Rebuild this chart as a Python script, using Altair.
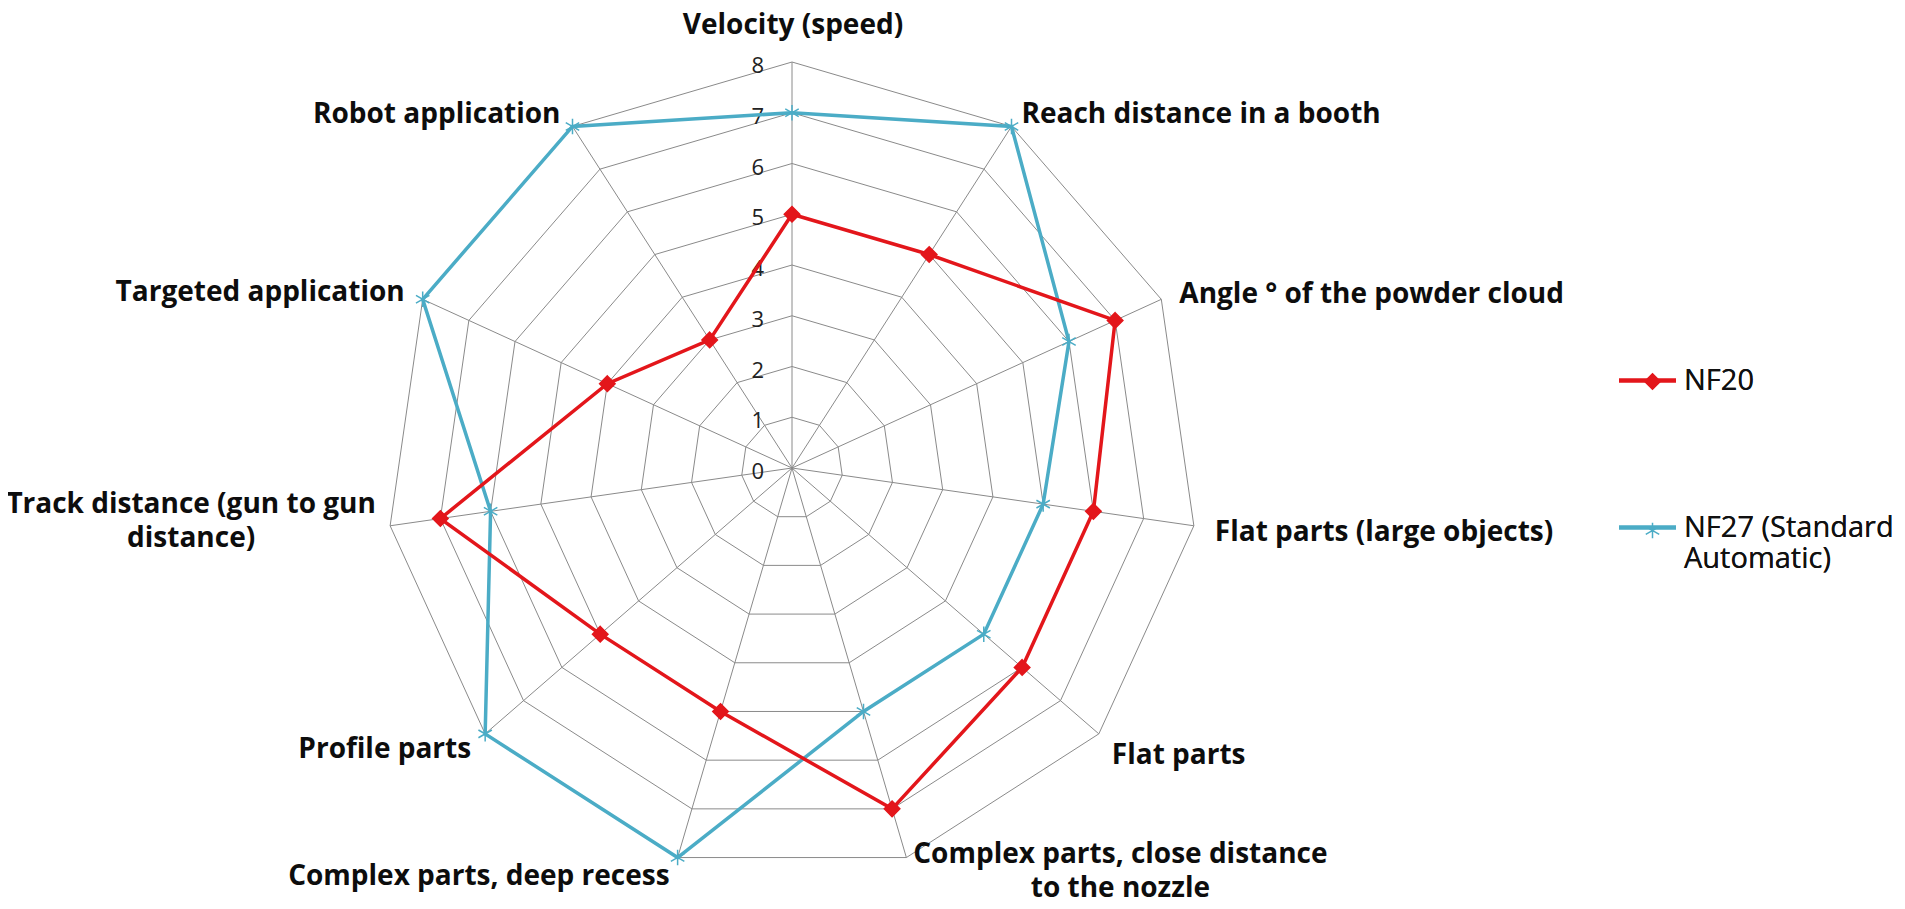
import altair as alt
import pandas as pd

categories = [
    "Velocity (speed)",
    "Reach distance in a booth",
    "Angle ° of the powder cloud",
    "Flat parts (large objects)",
    "Flat parts",
    "Complex parts, close distance\nto the nozzle",
    "Complex parts, deep recess",
    "Profile parts",
    "Track distance (gun to gun\ndistance)",
    "Targeted application",
    "Robot application",
]
nf20 = [5, 5, 7, 6, 6, 7, 5, 5, 7, 4, 3]
nf27 = [7, 8, 6, 5, 5, 5, 8, 8, 6, 8, 8]
series_names = ["NF20", "NF27 (Standard Automatic)"]
ticks = [0, 1, 2, 3, 4, 5, 6, 7, 8]

N = len(categories)
RMAX = ticks[-1]
FONT = "Open Sans"
GRID = "#8a8a8a"
RED = "#E3161B"
BLUE = "#4BACC6"

# layout of the plot area (pixels)
W, H = 1889, 894
CX, CY = 784, 460
UNIT = 50.75
xs = alt.Scale(domain=[-CX / UNIT, (W - CX) / UNIT], nice=False, zero=False)
ys = alt.Scale(domain=[-(H - CY) / UNIT, CY / UNIT], nice=False, zero=False)
ANG = f"datum.idx * 2 * PI / {N}"

# series table (closed polygons)
rows = []
for s, vals in zip(series_names, [nf20, nf27]):
    for i in range(N + 1):
        rows.append({"series": s, "series_m": s, "idx": i, "value": vals[i % N]})
series_df = pd.DataFrame(rows)

ring_df = pd.DataFrame([{"level": t, "idx": i} for t in ticks[1:] for i in range(N + 1)])
spoke_df = pd.DataFrame({"idx": list(range(N))})
tick_df = pd.DataFrame({"tick": ticks})
cat_df = pd.DataFrame({"idx": list(range(N)), "cat": categories})

X = lambda f: alt.X(f, scale=xs, axis=None)
Y = lambda f: alt.Y(f, scale=ys, axis=None)

rings = alt.Chart(ring_df).transform_calculate(
    x=f"datum.level * sin({ANG})", y=f"datum.level * cos({ANG})"
).mark_line(color=GRID, strokeWidth=1).encode(
    x=X("x:Q"), y=Y("y:Q"), detail="level:N", order="idx:Q"
)

spokes = alt.Chart(spoke_df).transform_calculate(
    x0="0", y0="0", x1=f"{RMAX} * sin({ANG})", y1=f"{RMAX} * cos({ANG})"
).mark_rule(color=GRID, strokeWidth=1).encode(
    x=X("x0:Q"), y=Y("y0:Q"), x2="x1:Q", y2="y1:Q"
)

tick_text = alt.Chart(tick_df).transform_calculate(x0="0").mark_text(
    align="right", baseline="middle", dx=-28, dy=4, font=FONT, fontSize=22, color="#222222"
).encode(x=X("x0:Q"), y=Y("tick:Q"), text="tick:Q")

label_style = {
    0: dict(align="center", dx=1, dy=-36),
    1: dict(align="left", dx=10, dy=-11),
    2: dict(align="left", dx=18, dy=-4),
    3: dict(align="left", dx=21, dy=7),
    4: dict(align="left", dx=13, dy=22),
    5: dict(align="center", dx=214, dy=-3),
    6: dict(align="right", dx=-8, dy=19),
    7: dict(align="right", dx=-14, dy=16),
    8: dict(align="center", dx=-199, dy=-21),
    9: dict(align="right", dx=-18, dy=-6),
    10: dict(align="right", dx=-12, dy=-11),
}
label_layers = []
for i, st in label_style.items():
    label_layers.append(
        alt.Chart(cat_df).transform_filter(f"datum.idx == {i}").transform_calculate(
            x=f"{RMAX} * sin({ANG})", y=f"{RMAX} * cos({ANG})"
        ).mark_text(
            baseline="middle", font=FONT, fontSize=28, fontWeight="bold", color="#0d0d0d",
            lineBreak="\n", lineHeight=34, **st
        ).encode(x=X("x:Q"), y=Y("y:Q"), text="cat:N")
    )

base = alt.Chart(series_df).transform_calculate(
    x=f"datum.value * sin({ANG})", y=f"datum.value * cos({ANG})"
)

label_expr = "datum.label == 'NF27 (Standard Automatic)' ? ['NF27 (Standard', 'Automatic)'] : datum.label"

lines = base.mark_line(strokeWidth=3.5).encode(
    x=X("x:Q"), y=Y("y:Q"), order="idx:Q",
    color=alt.Color(
        "series:N",
        scale=alt.Scale(domain=series_names, range=[RED, BLUE]),
        legend=alt.Legend(
            title=None, orient="none", legendX=1609, legendY=342, padding=0,
            symbolType="stroke", symbolSize=3249, symbolStrokeWidth=4,
            labelFont=FONT, labelFontSize=29, labelColor="#111111", labelOffset=6,
            labelLimit=500, rowPadding=101, labelExpr=label_expr,
        ),
    ),
)

DIAMOND = "M0,-1L1,0L0,1L-1,0Z"
STAR = "M0,-1L0,1M-0.87,-0.5L0.87,0.5M-0.87,0.5L0.87,-0.5"

pts = base.transform_filter(f"datum.idx < {N}").mark_point(
    size=240, strokeWidth=1.5, opacity=1, fillOpacity=1
).encode(
    x=X("x:Q"), y=Y("y:Q"),
    shape=alt.Shape("series_m:N", scale=alt.Scale(domain=series_names, range=[DIAMOND, STAR]),
                    legend=alt.Legend(
                        title=None, orient="none", legendX=1630, legendY=359, padding=0,
                        symbolSize=240, symbolStrokeWidth=1.5,
                        labelFont=FONT, labelFontSize=29, labelOffset=6,
                        labelLimit=500, rowPadding=119, labelExpr="''",
                    )),
    fill=alt.Fill("series_m:N", scale=alt.Scale(domain=series_names, range=[RED, "transparent"])),
    stroke=alt.Stroke("series_m:N", scale=alt.Scale(domain=series_names, range=[RED, BLUE])),
)

chart = alt.layer(rings, spokes, tick_text, *label_layers, lines.transform_filter("datum.series != 'NF20'"),
                  lines.transform_filter("datum.series == 'NF20'"), pts).properties(
    width=W, height=H, padding=0, autosize=alt.AutoSizeParams(type="none")
).configure_view(stroke=None).resolve_scale(color="independent")

chart.save("out.html", embed_options={"renderer": "svg", "actions": False})
